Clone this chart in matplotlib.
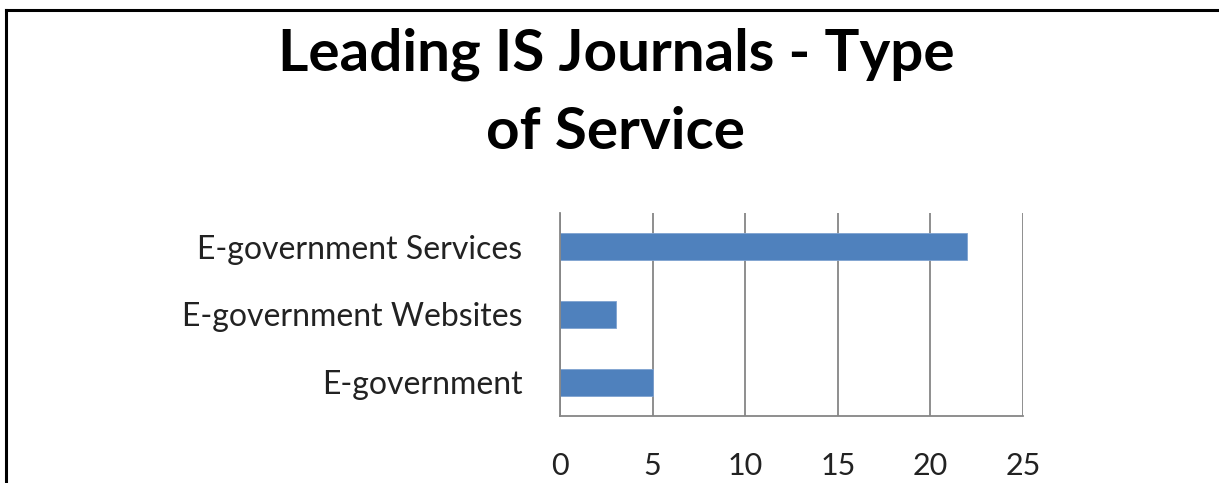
import matplotlib
matplotlib.use("Agg")
import matplotlib.pyplot as plt
from matplotlib.lines import Line2D

# service types, bottom to top as they appear on the chart
categories = ["E-government", "E-government Websites", "E-government Services"]
counts = [5, 3, 22]
xticks = [0, 5, 10, 15, 20, 25]

plt.rcParams["font.family"] = ["Lato", "DejaVu Sans"]

W, H = 1219, 483
fig = plt.figure(figsize=(W / 100, H / 100), dpi=100)
fig.patch.set_facecolor("white")

ax = fig.add_axes([560 / W, 1 - 416 / H, (1023 - 560) / W, (416 - 213) / H])
ax.barh(range(len(categories)), counts, height=0.4, color="#4F81BD",
        edgecolor="#7FA3D1", linewidth=0.6, zorder=3)

ax.set_xlim(0, 25)
ax.set_ylim(-0.5, 2.5)
ax.set_xticks(xticks)
ax.set_xticklabels([str(t) for t in xticks])
ax.set_yticks(range(len(categories)))
ax.set_yticklabels(categories)

grid_col = "#868686"
ax.grid(axis="x", color=grid_col, linewidth=1.3, zorder=1)
ax.grid(axis="y", visible=False)
for side in ("top", "right"):
    ax.spines[side].set_visible(False)
for side in ("left", "bottom"):
    ax.spines[side].set_color(grid_col)
    ax.spines[side].set_linewidth(1.3)
    ax.spines[side].set_zorder(4)

ax.tick_params(axis="x", length=0, pad=26, labelsize=22, labelcolor="#222222")
ax.tick_params(axis="y", length=0, pad=27, labelsize=23, labelcolor="#222222")

fig.text(616 / W, 1 - 93 / H, "Leading IS Journals - Type\nof Service",
         ha="center", va="center", fontsize=42, fontweight="bold",
         linespacing=1.58, color="black")

# frame lines along the left and top edges
fig.add_artist(Line2D([6 / W, 6 / W], [0, 1 - 10 / H], transform=fig.transFigure,
                      color="black", linewidth=2.2, solid_capstyle="projecting"))
fig.add_artist(Line2D([6 / W, 1], [1 - 10 / H, 1 - 10 / H], transform=fig.transFigure,
                      color="black", linewidth=2.2, solid_capstyle="projecting"))

fig.savefig("out.png", dpi=100, facecolor="white")
